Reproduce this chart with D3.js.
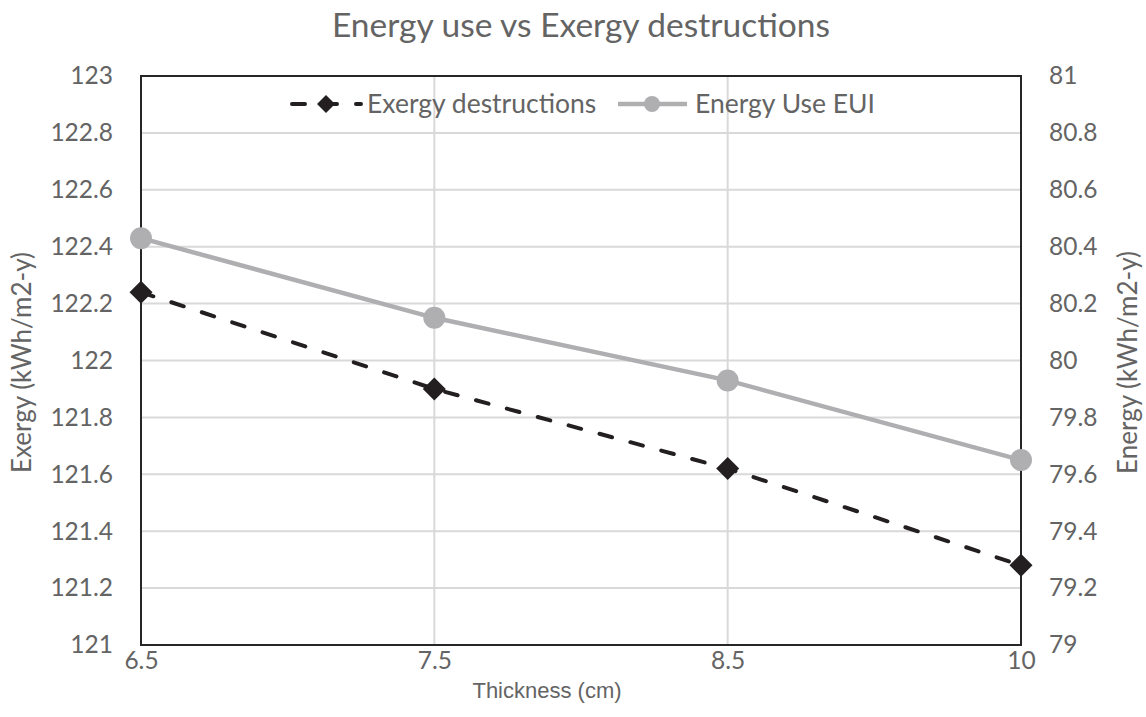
<!DOCTYPE html>
<html>
<head>
<meta charset="utf-8">
<script src="https://cdn.jsdelivr.net/npm/d3@7"></script>
<style>
  html, body { margin: 0; padding: 0; background: #fff; }
  svg { display: block; }
</style>
</head>
<body>
<svg id="chart" width="1146" height="717"></svg>
<script>
// Insulation thickness categories (cm)
const thickness = ["6.5", "7.5", "8.5", "10"];
// Exergy destructions (kWh/m2-y), left axis
const exergy = [122.24, 121.90, 121.62, 121.28];
// Energy use intensity (kWh/m2-y), right axis
const energyUse = [80.43, 80.15, 79.93, 79.65];
// Axis tick values
const leftTicks = [121, 121.2, 121.4, 121.6, 121.8, 122, 122.2, 122.4, 122.6, 122.8, 123];
const rightTicks = [79, 79.2, 79.4, 79.6, 79.8, 80, 80.2, 80.4, 80.6, 80.8, 81];

const plot = { left: 141, right: 1021, top: 76, bottom: 645 };
const textColor = "#646464";
const gridColor = "#d9d9d9";
const axisColor = "#262626";
const exColor = "#231f20";
const enColor = "#afafb2";
const calibri = "Lato, 'Open Sans', sans-serif";

const svg = d3.select("#chart");

const x = d3.scalePoint().domain(thickness).range([plot.left, plot.right]);
const yL = d3.scaleLinear().domain([121, 123]).range([plot.bottom, plot.top]);
const yR = d3.scaleLinear().domain([79, 81]).range([plot.bottom, plot.top]);

// Title
svg.append("text")
  .attr("x", (plot.left + plot.right) / 2).attr("y", 37)
  .attr("text-anchor", "middle")
  .style("font-family", calibri).style("font-size", "33.5px")
  .style("fill", textColor)
  .text("Energy use vs Exergy destructions");

// Horizontal gridlines
svg.append("g").selectAll("line").data(leftTicks).join("line")
  .attr("x1", plot.left).attr("x2", plot.right)
  .attr("y1", d => yL(d)).attr("y2", d => yL(d))
  .attr("stroke", gridColor).attr("stroke-width", 2);

// Vertical gridlines at each category
svg.append("g").selectAll("line").data(thickness).join("line")
  .attr("x1", d => x(d)).attr("x2", d => x(d))
  .attr("y1", plot.top).attr("y2", plot.bottom)
  .attr("stroke", gridColor).attr("stroke-width", 2);

// Plot border
svg.append("rect")
  .attr("x", plot.left).attr("y", plot.top)
  .attr("width", plot.right - plot.left).attr("height", plot.bottom - plot.top)
  .attr("fill", "none").attr("stroke", axisColor).attr("stroke-width", 2);

const tickFont = "24.5px";

// Left axis labels
const leftAxis = d3.axisLeft(yL).tickValues(leftTicks).tickSize(0).tickPadding(28)
  .tickFormat(d3.format("~g"));
const gL = svg.append("g").attr("transform", `translate(${plot.left},0)`).call(leftAxis);
gL.select(".domain").remove();
gL.selectAll("text").style("font-family", calibri).style("font-size", tickFont).style("fill", textColor);

// Right axis labels
const rightAxis = d3.axisRight(yR).tickValues(rightTicks).tickSize(0).tickPadding(28)
  .tickFormat(d3.format("~g"));
const gR = svg.append("g").attr("transform", `translate(${plot.right},0)`).call(rightAxis);
gR.select(".domain").remove();
gR.selectAll("text").style("font-family", calibri).style("font-size", tickFont).style("fill", textColor);

// Bottom axis labels
const bottomAxis = d3.axisBottom(x).tickSize(0).tickPadding(7);
const gB = svg.append("g").attr("transform", `translate(0,${plot.bottom})`).call(bottomAxis);
gB.select(".domain").remove();
gB.selectAll("text").style("font-family", calibri).style("font-size", tickFont).style("fill", textColor);

// Axis titles
svg.append("text")
  .attr("x", 547).attr("y", 698)
  .attr("text-anchor", "middle")
  .style("font-family", "'Liberation Sans', Arial, sans-serif").style("font-size", "22px")
  .style("fill", textColor)
  .text("Thickness (cm)");

svg.append("text")
  .attr("transform", `translate(31,${(plot.top + plot.bottom) / 2 + 2}) rotate(-90)`)
  .attr("text-anchor", "middle")
  .style("font-family", calibri).style("font-size", "26px")
  .style("fill", textColor)
  .text("Exergy (kWh/m2-y)");

svg.append("text")
  .attr("transform", `translate(1137,${(plot.top + plot.bottom) / 2 + 2}) rotate(-90)`)
  .attr("text-anchor", "middle")
  .style("font-family", calibri).style("font-size", "26px")
  .style("fill", textColor)
  .text("Energy (kWh/m2-y)");

const diamond = (s) => `M0,${-s}L${s},0L0,${s}L${-s},0Z`;

// Exergy destructions series (dashed, diamonds)
const exLine = d3.line().x((d, i) => x(thickness[i])).y(d => yL(d));
svg.append("path").datum(exergy)
  .attr("d", exLine).attr("fill", "none")
  .attr("stroke", exColor).attr("stroke-width", 4)
  .attr("stroke-dasharray", "13,19").attr("stroke-linecap", "round");
svg.append("g").selectAll("path").data(exergy).join("path")
  .attr("transform", (d, i) => `translate(${x(thickness[i])},${yL(d)})`)
  .attr("d", diamond(11.5)).attr("fill", exColor);

// Energy use series (solid, circles)
const enLine = d3.line().x((d, i) => x(thickness[i])).y(d => yR(d));
svg.append("path").datum(energyUse)
  .attr("d", enLine).attr("fill", "none")
  .attr("stroke", enColor).attr("stroke-width", 4.5);
svg.append("g").selectAll("circle").data(energyUse).join("circle")
  .attr("cx", (d, i) => x(thickness[i])).attr("cy", d => yR(d))
  .attr("r", 11).attr("fill", enColor);

// Legend
const legY = 104;
const leg = svg.append("g");
leg.append("line").attr("x1", 292).attr("x2", 361).attr("y1", legY).attr("y2", legY)
  .attr("stroke", exColor).attr("stroke-width", 4)
  .attr("stroke-dasharray", "13,19").attr("stroke-linecap", "round");
leg.append("path").attr("transform", `translate(326,${legY})`).attr("d", diamond(9)).attr("fill", exColor);
leg.append("text").attr("x", 367).attr("y", legY).attr("dy", "0.35em")
  .style("font-family", calibri).style("font-size", "26.5px").style("fill", textColor)
  .text("Exergy destructions");
leg.append("line").attr("x1", 618).attr("x2", 687).attr("y1", legY).attr("y2", legY)
  .attr("stroke", enColor).attr("stroke-width", 4.5);
leg.append("circle").attr("cx", 652).attr("cy", legY).attr("r", 8).attr("fill", enColor);
leg.append("text").attr("x", 695).attr("y", legY).attr("dy", "0.35em")
  .style("font-family", calibri).style("font-size", "26.5px").style("fill", textColor)
  .text("Energy Use EUI");
</script>
</body>
</html>
